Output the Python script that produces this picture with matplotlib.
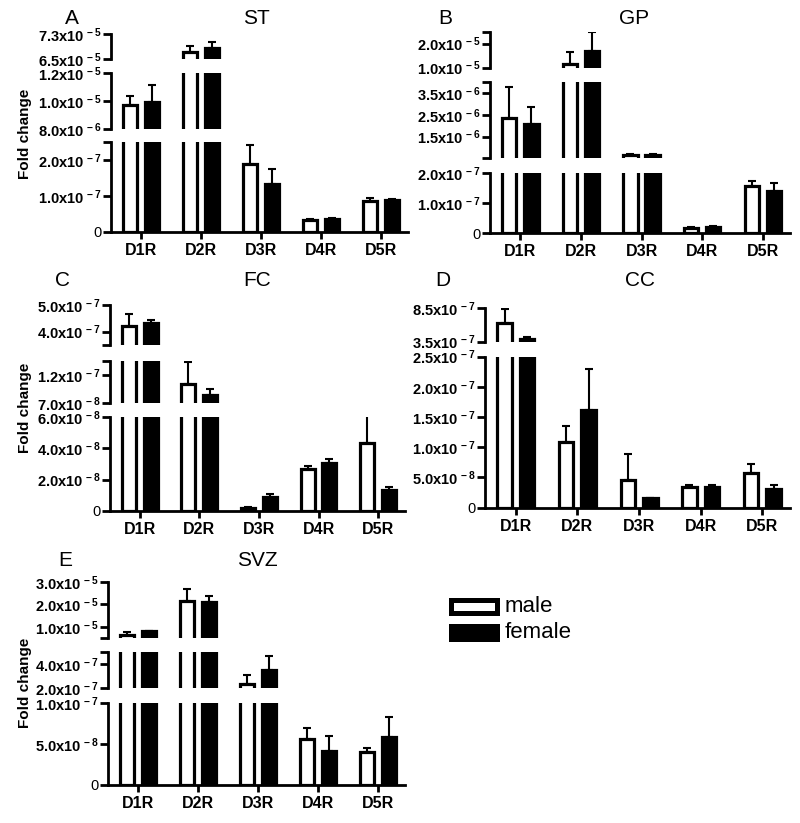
import numpy as np
import matplotlib
matplotlib.use("Agg")
import matplotlib.pyplot as plt
from matplotlib.patches import Rectangle

plt.rcParams['font.family'] = ['Liberation Sans', 'DejaVu Sans']
plt.rcParams['mathtext.fontset'] = 'custom'
plt.rcParams['mathtext.rm'] = 'Liberation Sans:bold'
plt.rcParams['mathtext.bf'] = 'Liberation Sans:bold'
plt.rcParams['mathtext.it'] = 'Liberation Sans:bold'
plt.rcParams['mathtext.default'] = 'rm'

# ---------------- data ----------------
categories = ['D1R', 'D2R', 'D3R', 'D4R', 'D5R']

st_male = [9.7e-6, 6.72e-5, 1.88e-7, 3.3e-8, 8.5e-8]
st_male_sem = [0.68e-6, 0.21e-5, 0.55e-7, 0.2e-8, 0.9e-8]
st_female = [9.9e-6, 6.84e-5, 1.32e-7, 3.6e-8, 8.8e-8]
st_female_sem = [1.24e-6, 0.2e-5, 0.43e-7, 0.15e-8, 0.3e-8]

gp_male = [2.36e-6, 1.16e-5, 6.6e-7, 1.7e-8, 1.59e-7]
gp_male_sem = [1.44e-6, 0.5e-5, 0.3e-7, 0.5e-8, 0.16e-7]
gp_female = [2.08e-6, 1.68e-5, 6.5e-7, 2.2e-8, 1.42e-7]
gp_female_sem = [0.78e-6, 0.79e-5, 0.3e-7, 0.3e-8, 0.26e-7]

fc_male = [4.22e-7, 1.04e-7, 2e-9, 2.7e-8, 4.35e-8]
fc_male_sem = [0.43e-7, 0.38e-7, 0.5e-9, 0.15e-8, 1.73e-8]
fc_female = [4.31e-7, 8.3e-8, 9e-9, 3.05e-8, 1.35e-8]
fc_female_sem = [0.13e-7, 1.2e-8, 2e-9, 0.25e-8, 0.2e-8]

cc_male = [6.26e-7, 1.08e-7, 4.6e-8, 3.44e-8, 5.78e-8]
cc_male_sem = [2.1e-7, 0.27e-7, 4.3e-8, 0.35e-8, 1.42e-8]
cc_female = [3.86e-7, 1.61e-7, 1.5e-8, 3.44e-8, 3.06e-8]
cc_female_sem = [0.34e-7, 0.68e-7, 0.0, 0.36e-8, 0.64e-8]

svz_male = [6.5e-6, 2.13e-5, 2.34e-7, 5.6e-8, 4.05e-8]
svz_male_sem = [1.3e-6, 0.54e-5, 0.74e-7, 1.36e-8, 0.52e-8]
svz_female = [8.0e-6, 2.1e-5, 3.5e-7, 4.13e-8, 5.87e-8]
svz_female_sem = [0.2e-6, 0.27e-5, 1.2e-7, 1.86e-8, 2.43e-8]

series_labels = ['male', 'female']

# ---------------- layout (pixels) ----------------
W, H = 800, 823
# segment: (ylo, yhi, px_top, px_bottom, labeled ticks, unlabeled end ticks)
panels = [
    dict(letter='A', name='ST', xr=(111, 408), letter_xy=(72, 19), name_xy=(256, 19),
         ylab_y=134, data=(st_male, st_male_sem, st_female, st_female_sem),
         segs=[(6.5e-5, 7.3e-5, 34, 59, [6.5e-5, 7.3e-5], []),
               (8e-6, 1.2e-5, 73, 129, [8e-6, 1e-5, 1.2e-5], []),
               (0, 2.5e-7, 142, 231.7, [0, 1e-7, 2e-7], [2.5e-7])]),
    dict(letter='B', name='GP', xr=(490, 790), letter_xy=(445, 19), name_xy=(634, 19),
         ylab_y=None, data=(gp_male, gp_male_sem, gp_female, gp_female_sem),
         segs=[(1e-5, 2.5e-5, 31.7, 67.7, [1e-5, 2e-5], [2.5e-5]),
               (0.5e-6, 4.0e-6, 82.3, 158.3, [1.5e-6, 2.5e-6, 3.5e-6], [0.5e-6, 4.0e-6]),
               (0, 2e-7, 173.3, 233.3, [0, 1e-7, 2e-7], [])]),
    dict(letter='C', name='FC', xr=(110, 405), letter_xy=(63, 280), name_xy=(257, 280),
         ylab_y=408, data=(fc_male, fc_male_sem, fc_female, fc_female_sem),
         segs=[(3.5e-7, 5e-7, 305, 345, [4e-7, 5e-7], [3.5e-7]),
               (7e-8, 1.45e-7, 360.7, 402.7, [7e-8, 1.2e-7], [1.45e-7]),
               (0, 6e-8, 416.7, 511, [0, 2e-8, 4e-8, 6e-8], [])]),
    dict(letter='D', name='CC', xr=(485, 790), letter_xy=(443, 281), name_xy=(640, 281),
         ylab_y=None, data=(cc_male, cc_male_sem, cc_female, cc_female_sem),
         segs=[(3.5e-7, 8.5e-7, 308.3, 341.7, [3.5e-7, 8.5e-7], []),
               (0, 2.5e-7, 356.7, 507.5, [0, 5e-8, 1e-7, 1.5e-7, 2e-7, 2.5e-7], [])]),
    dict(letter='E', name='SVZ', xr=(108, 405), letter_xy=(65, 560), name_xy=(257, 560),
         ylab_y=683, data=(svz_male, svz_male_sem, svz_female, svz_female_sem),
         segs=[(5e-6, 3e-5, 581.7, 638, [1e-5, 2e-5, 3e-5], [5e-6]),
               (2e-7, 5e-7, 652, 688.3, [2e-7, 4e-7], [5e-7]),
               (0, 1e-7, 703, 785, [0, 5e-8, 1e-7], [])]),
]


def sci(v):
    if v == 0:
        return '0'
    e = int(np.floor(np.log10(v) + 1e-9))
    m = v / 10.0 ** e
    return r'$%.1f\mathrm{x}10^{\,%d}$' % (m, e)


fig = plt.figure(figsize=(W / 100, H / 100), dpi=100)
x = np.arange(len(categories))
off, bw = 0.183, 0.235

for p in panels:
    male, male_sem, female, female_sem = p['data']
    x0, x1 = p['xr']
    nseg = len(p['segs'])
    for i, (lo, hi, pt, pb, lab, ends) in enumerate(p['segs']):
        ax = fig.add_axes([x0 / W, 1 - pb / H, (x1 - x0) / W, (pb - pt) / H])
        ax.patch.set_alpha(0)
        ax.set_xlim(-0.5, 4.45)
        ax.set_ylim(lo, hi)
        ax.bar(x - off, male, bw, facecolor='white', edgecolor='black', linewidth=2.3, zorder=2)
        ax.bar(x + off, female, bw, facecolor='black', edgecolor='black', linewidth=2.3, zorder=2)
        ax.errorbar(x - off, male, yerr=[np.zeros(len(x)), male_sem], fmt='none',
                    ecolor='black', elinewidth=1.5, capsize=3, capthick=1.5, zorder=3)
        ax.errorbar(x + off, female, yerr=[np.zeros(len(x)), female_sem], fmt='none',
                    ecolor='black', elinewidth=1.5, capsize=3, capthick=1.5, zorder=3)
        for s in ['top', 'right']:
            ax.spines[s].set_visible(False)
        ax.spines['left'].set_linewidth(2.0)
        ticks = list(lab) + list(ends)
        labels = [sci(t) for t in lab] + [''] * len(ends)
        ax.set_yticks(ticks)
        ax.set_yticklabels(labels)
        ax.tick_params(axis='y', length=6, width=2, labelsize=10.5, pad=1)
        if i == nseg - 1:
            ax.spines['bottom'].set_linewidth(2.0)
            ax.set_xticks(x)
            ax.set_xticklabels(categories, fontsize=11.5, fontweight='bold')
            ax.tick_params(axis='x', length=5, width=2, pad=3)
        else:
            ax.spines['bottom'].set_visible(False)
            ax.tick_params(axis='x', bottom=False, labelbottom=False)
    fig.text(p['letter_xy'][0] / W, 1 - p['letter_xy'][1] / H, p['letter'],
             fontsize=15, ha='center', va='center')
    fig.text(p['name_xy'][0] / W, 1 - p['name_xy'][1] / H, p['name'],
             fontsize=15, ha='center', va='center')
    if p['ylab_y'] is not None:
        fig.text(25 / W, 1 - p['ylab_y'] / H, 'Fold change', rotation=90,
                 fontsize=11, fontweight='bold', ha='center', va='center')

# legend
for j, (lab, fc) in enumerate(zip(series_labels, ['white', 'black'])):
    ytop = 599.5 + j * 26
    fig.patches.append(Rectangle((450.5 / W, 1 - (ytop + 13) / H), 46 / W, 13 / H,
                                 transform=fig.transFigure, facecolor=fc,
                                 edgecolor='black', linewidth=3.6))
    fig.text(505 / W, 1 - (ytop + 6.5) / H, lab, fontsize=16, ha='left', va='center')

fig.savefig('out.png', dpi=100)
